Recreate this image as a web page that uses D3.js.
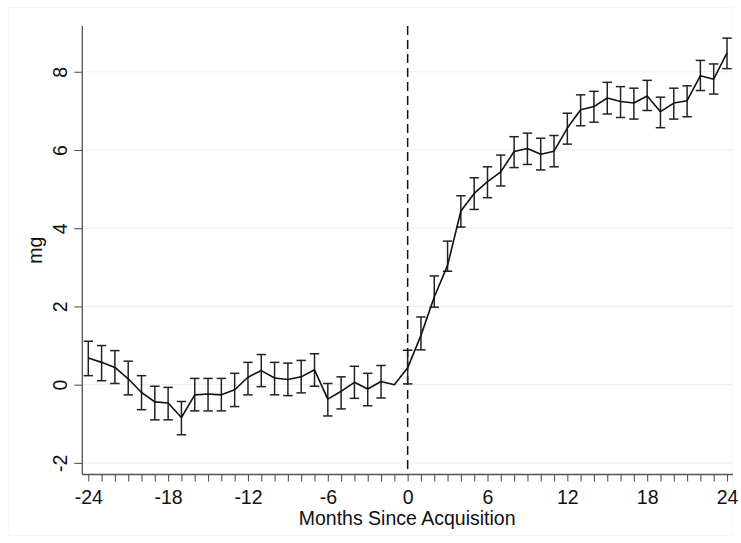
<!DOCTYPE html>
<html>
<head>
<meta charset="utf-8">
<script src="https://cdn.jsdelivr.net/npm/d3@7"></script>
<style>
  html, body { margin: 0; padding: 0; background: #fff; }
  svg { display: block; }
  text { font-family: "Liberation Sans", Arial, sans-serif; fill: #111; }
</style>
</head>
<body>
<svg id="chart" width="741" height="543"></svg>
<script>
// ---- data ----
const months = d3.range(-24, 25);
const estimate = [
  0.68, 0.57, 0.44, 0.15, -0.20, -0.44, -0.47, -0.84, -0.26, -0.24, -0.26, -0.13,
  0.19, 0.36, 0.17, 0.13, 0.20, 0.38, -0.37, -0.17, 0.06, -0.11, 0.08, 0.00,
  0.43, 1.26, 2.24, 3.05, 4.44, 4.89, 5.19, 5.44, 5.96, 6.04, 5.89, 5.97,
  6.56, 7.03, 7.11, 7.33, 7.24, 7.20, 7.38, 6.98, 7.20, 7.26, 7.90, 7.81, 8.48
];
const ciUpper = [
  1.11, 1.00, 0.87, 0.60, 0.23, -0.04, -0.07, -0.43, 0.16, 0.16, 0.16, 0.29,
  0.57, 0.77, 0.57, 0.55, 0.62, 0.79, 0.03, 0.20, 0.47, 0.29, 0.49, null,
  0.88, 1.73, 2.78, 3.67, 4.83, 5.29, 5.57, 5.87, 6.34, 6.43, 6.30, 6.37,
  6.94, 7.41, 7.50, 7.73, 7.62, 7.58, 7.78, 7.35, 7.58, 7.64, 8.29, 8.20, 8.86
];
const ciLower = [
  0.23, 0.10, 0.03, -0.26, -0.64, -0.90, -0.90, -1.28, -0.67, -0.67, -0.67, -0.56,
  -0.26, -0.05, -0.26, -0.28, -0.21, -0.04, -0.80, -0.62, -0.35, -0.54, -0.34, null,
  0.02, 0.89, 1.98, 2.90, 4.03, 4.48, 4.78, 5.08, 5.55, 5.63, 5.49, 5.57,
  6.15, 6.62, 6.71, 6.92, 6.83, 6.79, 7.01, 6.57, 6.79, 6.85, 7.52, 7.43, 8.08
];
const xTickLabels = [-24, -18, -12, -6, 0, 6, 12, 18, 24];
const yTickLabels = [-2, 0, 2, 4, 6, 8];
const xTitle = "Months Since Acquisition";
const yTitle = "mg";

const rows = months.map((m, i) => ({ m, est: estimate[i], hi: ciUpper[i], lo: ciLower[i] }));

// ---- layout ----
const svg = d3.select("#chart");
const pLeft = 82.3, pRight = 733, pTop = 26, pBottom = 474.5;
const fs = "19.5px";
const x = d3.scaleLinear().domain([-24.45, 24.45]).range([pLeft, pRight]);
const y = d3.scaleLinear().domain([-2.297, 9.17]).range([pBottom, pTop]);

// faint outer frame
svg.append("rect").attr("x", 8.5).attr("y", 7.5).attr("width", 724).attr("height", 528)
  .attr("fill", "none").attr("stroke", "#f7f7f7");

// gridlines
svg.append("g").selectAll("line").data(yTickLabels).join("line")
  .attr("x1", pLeft + 1).attr("x2", pRight)
  .attr("y1", d => y(d)).attr("y2", d => y(d))
  .attr("stroke", "#eaf1f3").attr("stroke-width", 1.2);

// y axis
const yAxis = svg.append("g").attr("transform", `translate(${pLeft},0)`)
  .call(d3.axisLeft(y).tickValues(yTickLabels).tickSize(8).tickPadding(0).tickFormat(d3.format("d")));
yAxis.select(".domain").attr("d", `M0,${pTop}V${pBottom}`).attr("stroke", "#555").attr("stroke-width", 1.3);
yAxis.selectAll(".tick line").attr("stroke", "#555").attr("stroke-width", 1.1);
yAxis.selectAll(".tick text")
  .attr("x", 0).attr("dy", 0)
  .attr("transform", "translate(-15,0) rotate(-90)")
  .attr("text-anchor", "middle")
  .style("font-size", fs).style("fill", "#111")
  .text(d => d < 0 ? "-" + Math.abs(d) : d);

// x axis (ticks every month, labels every 6)
const xAxis = svg.append("g").attr("transform", `translate(0,${pBottom})`)
  .call(d3.axisBottom(x).tickValues(months).tickSize(7).tickPadding(8.5)
    .tickFormat(d => xTickLabels.includes(d) ? (d < 0 ? "-" + Math.abs(d) : String(d)) : ""));
xAxis.select(".domain").attr("d", `M${pLeft},0H${pRight}`).attr("stroke", "#555").attr("stroke-width", 1.3);
xAxis.selectAll(".tick line").attr("stroke", "#555").attr("stroke-width", 1.1);
xAxis.selectAll(".tick text").style("font-size", fs).style("fill", "#111");

// titles
svg.append("text").attr("x", (pLeft + pRight) / 2 - 0.5).attr("y", 525)
  .attr("text-anchor", "middle").style("font-size", fs).text(xTitle);
svg.append("text").attr("transform", `translate(42,${(pTop + pBottom) / 2}) rotate(-90)`)
  .attr("text-anchor", "middle").style("font-size", fs).text(yTitle);

// vertical dashed line at 0
svg.append("line").attr("x1", x(0)).attr("x2", x(0)).attr("y1", pTop).attr("y2", pBottom)
  .attr("stroke", "#111").attr("stroke-width", 1.5).attr("stroke-dasharray", "9,5");

// error bars
const eb = rows.filter(d => d.hi !== null);
const capW = 4.7;
const g = svg.append("g").attr("stroke", "#222").attr("stroke-width", 1.5);
g.selectAll(".v").data(eb).join("line")
  .attr("x1", d => x(d.m)).attr("x2", d => x(d.m))
  .attr("y1", d => y(d.hi)).attr("y2", d => y(d.lo));
g.selectAll(".t").data(eb).join("line")
  .attr("x1", d => x(d.m) - capW).attr("x2", d => x(d.m) + capW)
  .attr("y1", d => y(d.hi)).attr("y2", d => y(d.hi));
g.selectAll(".b").data(eb).join("line")
  .attr("x1", d => x(d.m) - capW).attr("x2", d => x(d.m) + capW)
  .attr("y1", d => y(d.lo)).attr("y2", d => y(d.lo));

// point estimate line
svg.append("path").datum(rows)
  .attr("fill", "none").attr("stroke", "#111").attr("stroke-width", 1.6)
  .attr("stroke-linejoin", "round")
  .attr("d", d3.line().x(d => x(d.m)).y(d => y(d.est)));
</script>
</body>
</html>
